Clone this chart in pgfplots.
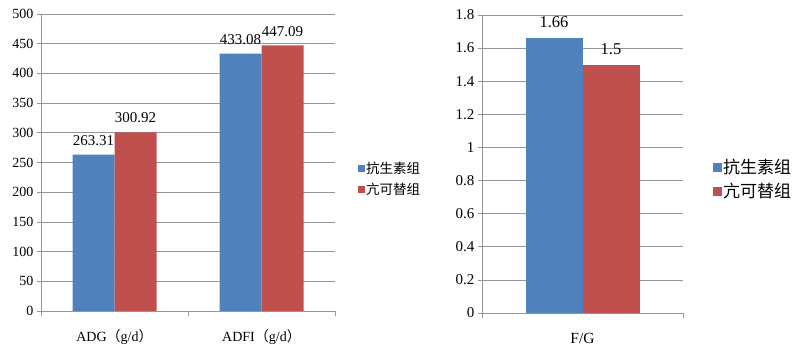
\documentclass[border=0pt]{standalone}
\usepackage{fontspec}
\setmainfont{Liberation Serif}
\newfontfamily\cjk{Noto Sans CJK SC}
\usepackage{pgfplots}
\pgfplotsset{compat=1.18}
\definecolor{cblue}{HTML}{4F81BD}
\definecolor{cred}{HTML}{C0504D}
\definecolor{gridc}{HTML}{959595}
\pgfplotsset{
  common/.style={
    scale only axis,
    ybar=0pt,
    axis x line=bottom, axis y line=left,
    axis line style={gridc,-, line width=0.7pt},
    ymajorgrids, grid style={gridc, line width=0.7pt},
    tick align=outside,
    major tick length=4bp, minor tick length=5bp,
    tick style={gridc, line width=0.7pt},
    major x tick style={draw=none},
    /pgf/number format/assume math mode=true,
    ymin=0,
    nodes near coords={\pgfmathprintnumber[fixed,precision=2]{\pgfplotspointmeta}},
    legend cell align=left,
    legend image code/.code={\fill[##1] (0bp,-3.5bp) rectangle (7bp,3.5bp);},
  },
}
\begin{document}
\begin{tikzpicture}
\useasboundingbox (0,0) rectangle (800bp,351bp);
\begin{axis}[common,
  at={(41bp,40bp)}, anchor=south west,
  width=294bp, height=297bp,
  xmin=-0.5, xmax=1.5, ymax=500,
  ytick={0,50,100,150,200,250,300,350,400,450,500},
  yticklabels={0,50,100,150,200,250,300,350,400,450,500},
  xtick={0,1},
  xticklabels={ADG{\cjk （}g/d{\cjk ）}, ADFI{\cjk （}g/d{\cjk ）}},
  minor xtick={-0.5,0.5,1.5},
  bar width=42bp,
  yticklabel style={font=\fontsize{14bp}{15bp}\selectfont},
  xticklabel style={font=\fontsize{14bp}{16bp}\selectfont, yshift=-11bp},
  every node near coord/.append style={font=\fontsize{15bp}{17bp}\selectfont, inner sep=0pt, yshift=9bp},
  legend style={at={(1.078,0.443)}, anchor=west, draw=none, fill=none,
    font=\fontsize{13.5bp}{16bp}\selectfont\cjk, row sep=6bp, inner sep=0pt,
    nodes={inner sep=1bp}},
]
\addplot[fill=cblue, draw=none] coordinates {(0,263.31) (1,433.08)};
\addplot[fill=cred, draw=none] coordinates {(0,300.92) (1,447.09)};
\legend{抗生素组, 亢可替组}
\end{axis}
\begin{axis}[common,
  at={(482bp,38bp)}, anchor=south west,
  width=201bp, height=298bp,
  xmin=-0.5, xmax=0.5, ymax=1.8,
  ytick={0,0.2,0.4,0.6,0.8,1,1.2,1.4,1.6,1.8},
  yticklabels={0,0.2,0.4,0.6,0.8,1,1.2,1.4,1.6,1.8},
  xtick={0},
  xticklabels={F/G},
  minor xtick={-0.5,0.5},
  bar width=57bp,
  yticklabel style={font=\fontsize{15bp}{17bp}\selectfont},
  xticklabel style={font=\fontsize{15.5bp}{17bp}\selectfont, yshift=-13bp},
  every node near coord/.append style={font=\fontsize{16.5bp}{18bp}\selectfont, inner sep=0pt, yshift=10bp},
  legend style={at={(1.149,0.448)}, anchor=west, draw=none, fill=none,
    font=\fontsize{17bp}{19bp}\selectfont\cjk, row sep=6bp, inner sep=0pt,
    nodes={inner sep=1bp}},
  legend image code/.code={\fill[#1] (0bp,-4.5bp) rectangle (9bp,4.5bp);},
]
\addplot[fill=cblue, draw=none] coordinates {(0,1.66)};
\addplot[fill=cred, draw=none] coordinates {(0,1.5)};
\legend{抗生素组, 亢可替组}
\end{axis}
\end{tikzpicture}
\end{document}
